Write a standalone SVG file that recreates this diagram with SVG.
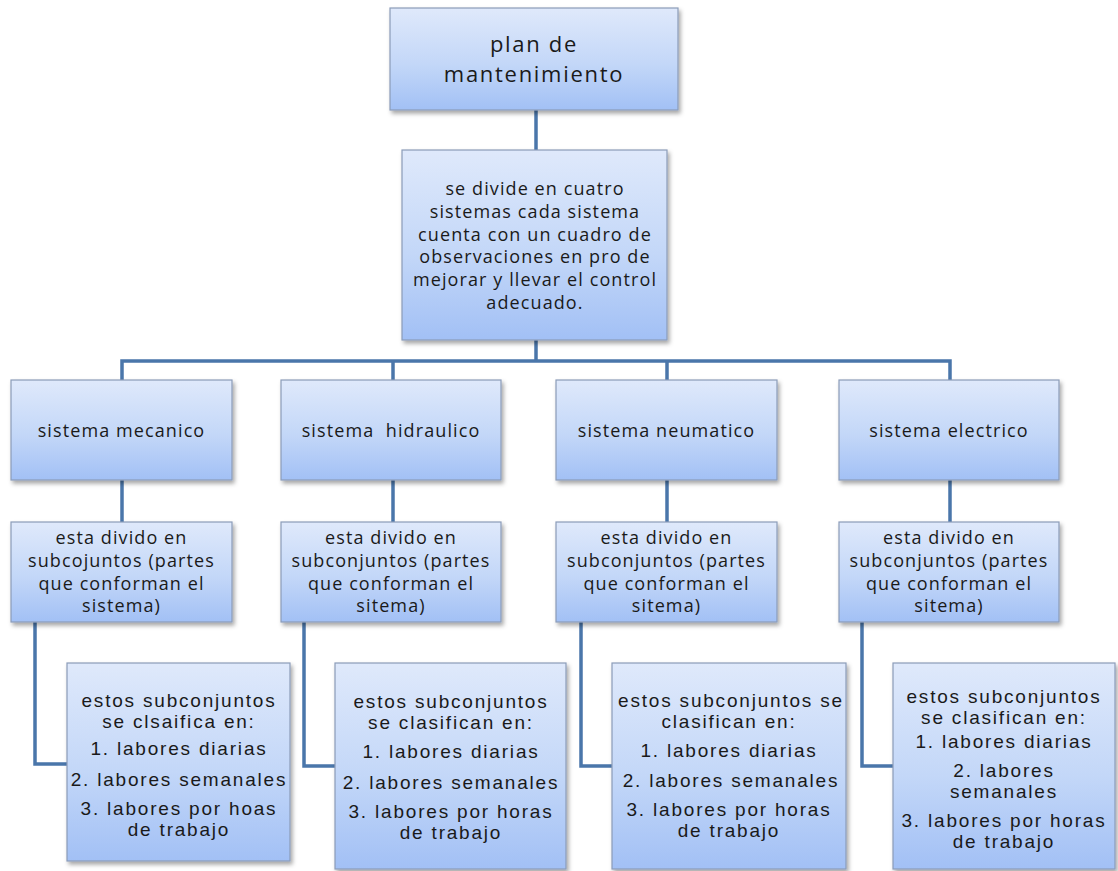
<svg xmlns="http://www.w3.org/2000/svg" width="1118" height="871" viewBox="0 0 1118 871">
  <defs>
    <linearGradient id="boxFill" x1="0" y1="0" x2="0" y2="1">
      <stop offset="0" stop-color="#dfe9fb"/>
      <stop offset="0.55" stop-color="#c3d7f8"/>
      <stop offset="1" stop-color="#a2c0f5"/>
    </linearGradient>
    <filter id="shadow" x="-10%" y="-10%" width="125%" height="130%">
      <feDropShadow dx="2" dy="3" stdDeviation="2" flood-color="#000" flood-opacity="0.35"/>
    </filter>
  </defs>
  <style>
    .box { fill: url(#boxFill); stroke: #8b9cb8; stroke-width: 1.2; filter: url(#shadow); }
    .link { fill: none; stroke: #4a76aa; stroke-width: 3.5; }
    .t { font-family: "Open Sans", "Liberation Sans", sans-serif; font-size: 18px; fill: #1a1a1a; text-anchor: middle; letter-spacing: 1.1px; }
    .big { font-size: 22px; letter-spacing: 1.7px; }
    .a { font-family: "Liberation Sans", Arial, sans-serif; font-size: 19px; fill: #1a1a1a; text-anchor: middle; letter-spacing: 1.8px; }
  </style>
  <rect width="1118" height="871" fill="#ffffff"/>

  <!-- connectors -->
  <g id="connectors">
    <path class="link" d="M536,110 V150"/>
    <path class="link" d="M536,340 V361"/>
    <path class="link" d="M122,380 V361 H950 V380"/>
    <path class="link" d="M393,361 V380"/>
    <path class="link" d="M667,361 V380"/>
    <path class="link" d="M122,480 V522"/>
    <path class="link" d="M393,480 V522"/>
    <path class="link" d="M667,480 V522"/>
    <path class="link" d="M950,480 V522"/>
    <path class="link" d="M35,622 V764 H67"/>
    <path class="link" d="M304,622 V766 H335"/>
    <path class="link" d="M581,622 V766 H612"/>
    <path class="link" d="M862,622 V766 H893"/>
  </g>

  <!-- root -->
  <g id="plan">
    <rect class="box" x="390" y="8" width="288" height="102"/>
    <text class="t big" x="534" y="52">plan de</text>
    <text class="t big" x="534" y="82">mantenimiento</text>
  </g>

  <g id="descripcion">
    <rect class="box" x="402" y="150" width="265" height="190"/>
    <text class="t" x="535" y="195">se divide en cuatro</text>
    <text class="t" x="535" y="218">sistemas cada sistema</text>
    <text class="t" x="535" y="241">cuenta con un cuadro de</text>
    <text class="t" x="535" y="263">observaciones en pro de</text>
    <text class="t" x="535" y="286">mejorar y llevar el control</text>
    <text class="t" x="535" y="309">adecuado.</text>
  </g>

  <!-- systems -->
  <g id="mecanico">
    <rect class="box" x="11" y="380" width="221" height="100"/>
    <text class="t" x="121.5" y="437">sistema mecanico</text>
  </g>
  <g id="hidraulico">
    <rect class="box" x="281" y="380" width="220" height="100"/>
    <text class="t" x="391" y="437" xml:space="preserve">sistema  hidraulico</text>
  </g>
  <g id="neumatico">
    <rect class="box" x="556" y="380" width="221" height="100"/>
    <text class="t" x="666.5" y="437">sistema neumatico</text>
  </g>
  <g id="electrico">
    <rect class="box" x="839" y="380" width="220" height="100"/>
    <text class="t" x="949" y="437">sistema electrico</text>
  </g>

  <!-- subsets -->
  <g id="sub-mecanico">
    <rect class="box" x="11" y="522" width="221" height="100"/>
    <text class="t" x="121.5" y="544">esta divido en</text>
    <text class="t" x="121.5" y="567">subcojuntos (partes</text>
    <text class="t" x="121.5" y="590">que conforman el</text>
    <text class="t" x="121.5" y="612">sistema)</text>
  </g>
  <g id="sub-hidraulico">
    <rect class="box" x="281" y="522" width="220" height="100"/>
    <text class="t" x="391" y="544">esta divido en</text>
    <text class="t" x="391" y="567">subconjuntos (partes</text>
    <text class="t" x="391" y="590">que conforman el</text>
    <text class="t" x="391" y="612">sitema)</text>
  </g>
  <g id="sub-neumatico">
    <rect class="box" x="556" y="522" width="221" height="100"/>
    <text class="t" x="666.5" y="544">esta divido en</text>
    <text class="t" x="666.5" y="567">subconjuntos (partes</text>
    <text class="t" x="666.5" y="590">que conforman el</text>
    <text class="t" x="666.5" y="612">sitema)</text>
  </g>
  <g id="sub-electrico">
    <rect class="box" x="839" y="522" width="220" height="100"/>
    <text class="t" x="949" y="544">esta divido en</text>
    <text class="t" x="949" y="567">subconjuntos (partes</text>
    <text class="t" x="949" y="590">que conforman el</text>
    <text class="t" x="949" y="612">sitema)</text>
  </g>

  <!-- task classes -->
  <g id="labores-mecanico">
    <rect class="box" x="67" y="663" width="223" height="198"/>
    <text class="a" x="179" y="707">estos subconjuntos</text>
    <text class="a" x="179" y="728">se clsaifica en:</text>
    <text class="a" x="179" y="755">1. labores diarias</text>
    <text class="a" x="179" y="786">2. labores semanales</text>
    <text class="a" x="179" y="815">3. labores por hoas</text>
    <text class="a" x="179" y="836">de trabajo</text>
  </g>
  <g id="labores-hidraulico">
    <rect class="box" x="335" y="663" width="231" height="206"/>
    <text class="a" x="451" y="708">estos subconjuntos</text>
    <text class="a" x="451" y="729">se clasifican en:</text>
    <text class="a" x="451" y="758">1. labores diarias</text>
    <text class="a" x="451" y="789">2. labores semanales</text>
    <text class="a" x="451" y="818">3. labores por horas</text>
    <text class="a" x="451" y="839">de trabajo</text>
  </g>
  <g id="labores-neumatico">
    <rect class="box" x="612" y="663" width="234" height="206"/>
    <text class="a" x="731" y="707">estos subconjuntos se</text>
    <text class="a" x="729" y="728">clasifican en:</text>
    <text class="a" x="729" y="757">1. labores diarias</text>
    <text class="a" x="731" y="787">2. labores semanales</text>
    <text class="a" x="729" y="816">3. labores por horas</text>
    <text class="a" x="729" y="837">de trabajo</text>
  </g>
  <g id="labores-electrico">
    <rect class="box" x="893" y="663" width="222" height="206"/>
    <text class="a" x="1004" y="703">estos subconjuntos</text>
    <text class="a" x="1004" y="724">se clasifican en:</text>
    <text class="a" x="1004" y="748">1. labores diarias</text>
    <text class="a" x="1004" y="777">2. labores</text>
    <text class="a" x="1004" y="798">semanales</text>
    <text class="a" x="1004" y="827">3. labores por horas</text>
    <text class="a" x="1004" y="848">de trabajo</text>
  </g>
</svg>
